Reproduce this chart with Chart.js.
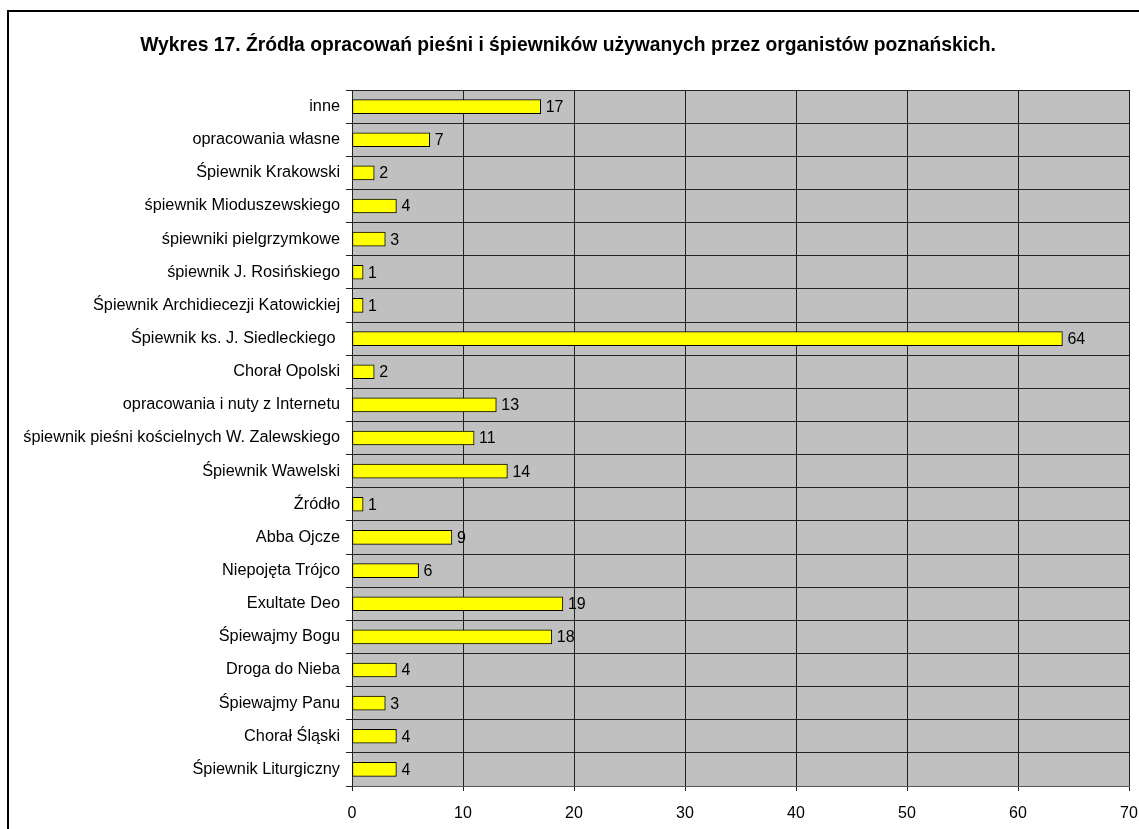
<!DOCTYPE html>
<html>
<head>
<meta charset="utf-8">
<script src="https://cdn.jsdelivr.net/npm/chart.js@4"></script>
<style>
  html, body { margin: 0; padding: 0; background: #fff; }
  #wrap { width: 1139px; height: 829px; }
</style>
</head>
<body>
<div id="wrap"><canvas id="wykres" width="1139" height="829"></canvas></div>
<script>
// dane z wykresu (od góry do dołu)
const zrodla = [
  'inne',
  'opracowania własne',
  'Śpiewnik Krakowski',
  'śpiewnik Mioduszewskiego',
  'śpiewniki pielgrzymkowe',
  'śpiewnik J. Rosińskiego',
  'Śpiewnik Archidiecezji Katowickiej',
  'Śpiewnik ks. J. Siedleckiego ',
  'Chorał Opolski',
  'opracowania i nuty z Internetu',
  'śpiewnik pieśni kościelnych W. Zalewskiego',
  'Śpiewnik Wawelski',
  'Źródło',
  'Abba Ojcze',
  'Niepojęta Trójco',
  'Exultate Deo',
  'Śpiewajmy Bogu',
  'Droga do Nieba',
  'Śpiewajmy Panu',
  'Chorał Śląski',
  'Śpiewnik Liturgiczny'
];
const liczby = [17, 7, 2, 4, 3, 1, 1, 64, 2, 13, 11, 14, 1, 9, 6, 19, 18, 4, 3, 4, 4];
const osX = { min: 0, max: 70, krok: 10 };
const tytul = 'Wykres 17. Źródła opracowań pieśni i śpiewników używanych przez organistów poznańskich.';

const FONT = 'Arial, "Liberation Sans", sans-serif';

// tło, ramka i tytuł
const ramka = {
  id: 'ramka',
  beforeDraw(chart) {
    const ctx = chart.ctx;
    const a = chart.chartArea;
    ctx.save();
    ctx.fillStyle = '#fff';
    ctx.fillRect(0, 0, chart.width, chart.height);
    ctx.strokeStyle = '#000';
    ctx.lineWidth = 2;
    ctx.beginPath();
    ctx.moveTo(8, chart.height);
    ctx.lineTo(8, 11);
    ctx.lineTo(chart.width, 11);
    ctx.stroke();
    ctx.fillStyle = '#c0c0c0';
    ctx.fillRect(a.left, a.top, a.right - a.left, a.bottom - a.top);
    ctx.fillStyle = '#000';
    ctx.font = 'bold 19.3px ' + FONT;
    ctx.textAlign = 'center';
    ctx.textBaseline = 'middle';
    ctx.fillText(tytul, 568, 46);
    ctx.restore();
  },
  afterDatasetsDraw(chart) {
    // etykiety wartości przy słupkach
    const ctx = chart.ctx;
    const meta = chart.getDatasetMeta(0);
    ctx.save();
    ctx.fillStyle = '#000';
    ctx.font = '16px ' + FONT;
    ctx.textAlign = 'left';
    ctx.textBaseline = 'middle';
    meta.data.forEach((bar, i) => {
      ctx.fillText(String(liczby[i]), bar.x + 5, bar.y + 1);
    });
    ctx.restore();
  }
};

new Chart(document.getElementById('wykres'), {
  type: 'bar',
  data: {
    labels: zrodla,
    datasets: [{
      data: liczby,
      backgroundColor: '#ffff00',
      borderColor: '#000',
      borderWidth: 1,
      borderSkipped: false,
      barThickness: 14
    }]
  },
  options: {
    indexAxis: 'y',
    responsive: false,
    animation: false,
    layout: { padding: { top: 90, right: 10, left: 0, bottom: 0 } },
    plugins: {
      legend: { display: false },
      tooltip: { enabled: false },
      title: { display: false }
    },
    scales: {
      x: {
        min: osX.min,
        max: osX.max,
        afterFit: s => { s.height = 43; s.paddingLeft = 0; s.paddingRight = 0; },
        ticks: { stepSize: osX.krok, color: '#000', padding: 13, font: { family: FONT, size: 16 } },
        grid: { color: '#222', tickLength: 5, tickColor: '#222' },
        border: { color: '#555', width: 1 }
      },
      y: {
        afterFit: s => { s.width = 352; s.paddingTop = 0; s.paddingBottom = 0; },
        ticks: { color: '#000', padding: 6, font: { family: FONT, size: 16.3 }, autoSkip: false },
        grid: { color: '#222', tickLength: 6, tickColor: '#222', offset: true },
        border: { color: '#222', width: 1 }
      }
    }
  },
  plugins: [ramka]
});
</script>
</body>
</html>
